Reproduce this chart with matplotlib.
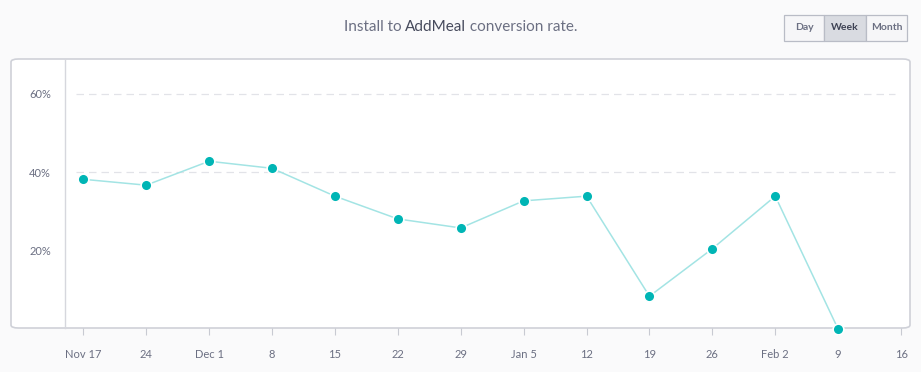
import matplotlib
matplotlib.use("Agg")
import matplotlib.pyplot as plt
from matplotlib.patches import FancyBboxPatch, Rectangle

plt.rcParams['font.family'] = ['Lato', 'DejaVu Sans']

weeks = ["Nov 17", "24", "Dec 1", "8", "15", "22", "29", "Jan 5", "12", "19", "26", "Feb 2", "9", "16"]
rates = [38.2, 36.7, 42.8, 41.0, 33.9, 28.1, 25.8, 32.7, 33.9, 8.4, 20.5, 33.9, 0.0]
y_ticks = [20, 40, 60]
grid_levels = [40, 60]
buttons = ["Day", "Week", "Month"]
title_parts = [("Install to ", "#6b6f82"), ("AddMeal", "#464a5c"), (" conversion rate.", "#6b6f82")]

W, H = 921, 372
fig = plt.figure(figsize=(W / 100, H / 100), dpi=100)
fig.patch.set_facecolor("#fafafb")

def fx(px):
    return px / W

def fy(py):
    return 1 - py / H

# white panel behind the chart
panel = FancyBboxPatch((fx(11), fy(328)), fx(910) - fx(11), fy(59) - fy(328),
                       boxstyle="round,pad=0,rounding_size=0.008",
                       transform=fig.transFigure, facecolor="white",
                       edgecolor="#cfd1d8", linewidth=1.2, zorder=-5)
fig.patches.append(panel)

ax = fig.add_axes([fx(65), fy(328), fx(908) - fx(65), fy(60) - fy(328)])
ax.set_zorder(2)
ax.set_facecolor("none")
x = list(range(len(rates)))
ax.plot(x, rates, color="#a3e4e4", linewidth=1.1, zorder=2, clip_on=False)
ax.scatter(x, rates, s=60, color="#00b5b5", edgecolor="white", linewidth=1.2,
           zorder=3, clip_on=False)

for g in grid_levels:
    ax.axhline(g, xmin=0.013, xmax=0.985, color="#e2e3e8", linestyle=(0, (6, 4)),
               linewidth=0.9, zorder=1)

ax.set_xlim(-0.29, 13.11)
ax.set_ylim(0.3, 68.6)
ax.set_xticks(range(len(weeks)))
ax.set_xticklabels(weeks)
ax.set_yticks(y_ticks)
ax.set_yticklabels([f"{t}%" for t in y_ticks])
for s in ["top", "right", "bottom"]:
    ax.spines[s].set_visible(False)
ax.spines["left"].set_color("#d6d7dd")
ax.spines["left"].set_linewidth(1.0)
ax.tick_params(axis="y", length=0, pad=10, labelsize=8, labelcolor="#6b6f82")
ax.tick_params(axis="x", length=5, width=0.8, color="#c8cad2", pad=10,
               labelsize=8, labelcolor="#6b6f82")

# title, laid out piece by piece so the middle word can be darker
renderer = fig.canvas.get_renderer()
texts = [fig.text(0, fy(27), s, ha="left", va="center", fontsize=11, color=c)
         for s, c in title_parts]
widths = [t.get_window_extent(renderer).width for t in texts]
left = 460.5 - sum(widths) / 2
for t, w in zip(texts, widths):
    t.set_x(fx(left))
    left += w

# Day / Week / Month toggle
edges = [784, 824, 866, 907]
for i, label in enumerate(buttons):
    face = "#d9dbe1" if label == "Week" else "#f6f6f8"
    r = Rectangle((fx(edges[i]), fy(41)), fx(edges[i + 1]) - fx(edges[i]),
                  fy(15) - fy(41), transform=fig.transFigure,
                  facecolor=face, edgecolor="#b9bcc6", linewidth=0.9)
    fig.patches.append(r)
    fig.text(fx((edges[i] + edges[i + 1]) / 2), fy(28), label, ha="center",
             va="center", fontsize=7.5, fontweight="bold",
             color="#3e4254" if label == "Week" else "#6b6f82")

fig.savefig("out.png", dpi=100, facecolor=fig.get_facecolor())
